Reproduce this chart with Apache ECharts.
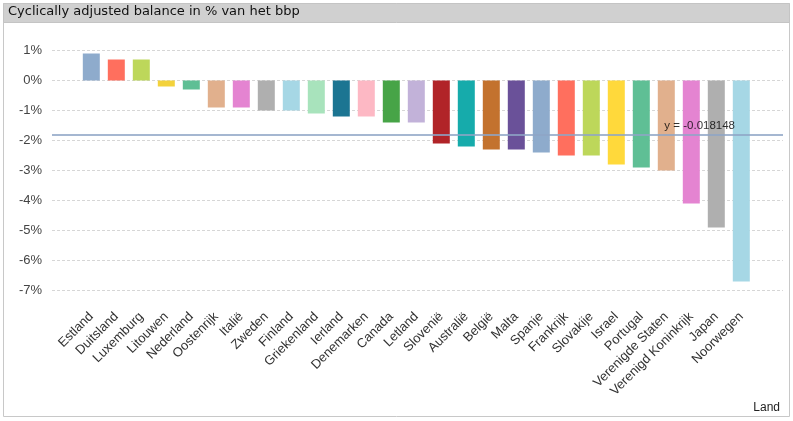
<!DOCTYPE html>
<html>
<head>
<meta charset="utf-8">
<script src="https://cdn.jsdelivr.net/npm/echarts@6/dist/echarts.min.js"></script>
<style>html,body{margin:0;padding:0;background:#fff;}#c{width:793px;height:421px;}</style>
</head>
<body>
<div id="c"></div>
<script>
var categories = ['Estland','Duitsland','Luxemburg','Litouwen','Nederland','Oostenrijk','Italië','Zweden','Finland','Griekenland','Ierland','Denemarken','Canada','Letland','Slovenië','Australië','België','Malta','Spanje','Frankrijk','Slovakije','Israel','Portugal','Verenigde Staten','Verenigd Koninkrijk','Japan','Noorwegen'];
var balance = [0.009,0.007,0.007,-0.002,-0.003,-0.009,-0.009,-0.010,-0.010,-0.011,-0.012,-0.012,-0.014,-0.014,-0.021,-0.022,-0.023,-0.023,-0.024,-0.025,-0.025,-0.028,-0.029,-0.030,-0.041,-0.049,-0.067];
var barColors = ['#8eabcc','#ff6f5e','#bdd75a','#f3d23c','#5fbf95','#e1b08d','#e484d1','#afafaf','#a6d7e5','#a8e3bc','#1c7592','#fdb8c4','#47a447','#c2b2d9','#b12428','#16abab','#c3722e','#6a5199','#8eabcc','#ff6f5e','#bdd75a','#ffd93b','#5fbf95','#e1b08d','#e484d1','#afafaf','#a6d7e5'];
var yTicks = [0.01,0,-0.01,-0.02,-0.03,-0.04,-0.05,-0.06,-0.07];

var mean = balance.reduce(function(a,b){return a+b;},0)/balance.length;
var chart = echarts.init(document.getElementById('c'), null, {renderer:'canvas'});
var font = 'Liberation Sans, Arial, sans-serif';
chart.setOption({
  animation:false,
  backgroundColor:'#fff',
  graphic:[
    {type:'rect', z:0, shape:{x:3.5,y:3.5,width:786,height:413}, style:{fill:'#fff', stroke:'#c8c8c8', lineWidth:1}},
    {type:'rect', z:1, shape:{x:3.5,y:3.5,width:786,height:19}, style:{fill:'#d0d0d0', stroke:'#c4c4c4', lineWidth:1}},
    {type:'text', z:2, left:8, top:5, style:{text:'Cyclically adjusted balance in % van het bbp', fill:'#111', font:'13px "DejaVu Sans", Tahoma, sans-serif'}},
    {type:'text', z:2, right:13, top:402, style:{text:'Land', fill:'#222', font:'12px ' + font}}
  ],
  grid:[
    {left:78.8, right:39.2, top:35.5, bottom:115.5, containLabel:false},
    {left:52, right:10, top:20.5, bottom:100.5, containLabel:false}
  ],
  xAxis:[
    {type:'category', gridIndex:0, data:categories, boundaryGap:true,
     axisLine:{show:false}, axisTick:{show:false},
     axisLabel:{rotate:45, interval:0, margin:9, color:'#333', fontSize:13, fontFamily:font}},
    {type:'value', gridIndex:1, min:0, max:1, show:false}
  ],
  yAxis:[
    {type:'value', gridIndex:0, min:-0.075, max:0.015, show:false},
    {type:'value', gridIndex:1, min:-0.08, max:0.02, interval:0.01,
     axisLine:{show:false}, axisTick:{show:false},
     axisLabel:{showMinLabel:false, showMaxLabel:false, margin:10, color:'#444', fontSize:13, fontFamily:font,
       formatter:function(v){ if (yTicks.some(function(t){return Math.abs(t-v)<1e-9;})) return Math.round(v*100)+'%'; return ''; }},
     splitLine:{show:true, showMinLine:false, showMaxLine:false, lineStyle:{color:'#d6d6d6', type:[3,2], width:1}}}
  ],
  series:[
    {type:'bar', xAxisIndex:0, yAxisIndex:0, barWidth:17, z:2,
     data:balance.map(function(v,i){ return {value:v, itemStyle:{color:barColors[i]}}; })},
    {type:'line', xAxisIndex:1, yAxisIndex:1, data:[], silent:true, z:5,
     markLine:{symbol:'none', silent:true, precision:8, z:5,
       data:[{yAxis:mean}],
       lineStyle:{color:'#8ea5c6', width:2, type:'solid', opacity:0.8},
       label:{show:true, position:'insideEndTop', distance:[48,3], color:'#000', fontSize:11.5, fontFamily:font,
         formatter:function(){ return 'y = ' + mean.toFixed(6); }}}}
  ]
});
</script>
</body>
</html>
